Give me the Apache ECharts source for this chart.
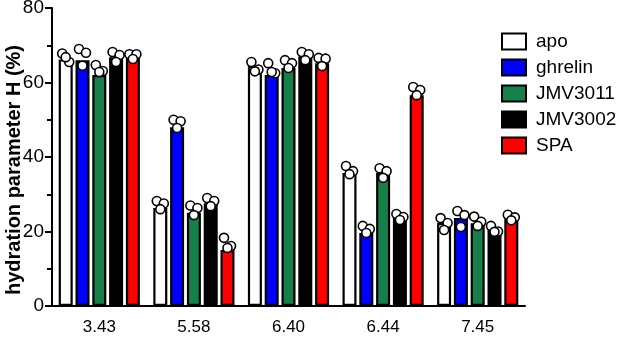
<!DOCTYPE html>
<html>
<head>
<meta charset="utf-8">
<script src="https://cdn.jsdelivr.net/npm/echarts@6/dist/echarts.min.js"></script>
<style>
  html, body { margin: 0; padding: 0; background: #fff; }
  #chart { width: 617px; height: 337px; }
</style>
</head>
<body>
<div id="chart"></div>
<script>
// categories on the x axis
const categories = ["3.43", "5.58", "6.40", "6.44", "7.45"];
const seriesNames = ["apo", "ghrelin", "JMV3011", "JMV3002", "SPA"];
const seriesColors = ["#ffffff", "#0000ff", "#17804a", "#000000", "#ff0000"];

// bar heights (mean H %)
const apo = [66.2, 26.3, 64.5, 35.7, 22.3];
const ghrelin = [66.0, 48.0, 62.0, 19.6, 23.6];
const jmv3011 = [62.0, 25.0, 63.9, 35.7, 22.2];
const jmv3002 = [66.8, 27.6, 67.0, 23.6, 21.0];
const spa = [66.8, 15.0, 65.2, 56.6, 23.5];

// individual replicates (3 per bar)
const apoPts = [[67.8, 65.5, 66.8], [28.2, 27.5, 26.0], [65.5, 63.5, 63.0], [37.6, 36.2, 35.4], [23.6, 22.3, 20.4]];
const ghrelinPts = [[69.0, 68.0, 64.5], [50.0, 49.6, 47.8], [65.2, 62.5, 62.8], [21.5, 20.7, 19.6], [25.5, 24.4, 21.2]];
const jmv3011Pts = [[64.7, 63.1, 62.8], [27.0, 26.3, 24.4], [66.0, 65.2, 63.9], [37.0, 36.2, 34.4], [24.0, 22.6, 21.5]];
const jmv3002Pts = [[68.2, 67.4, 65.5], [29.0, 28.2, 26.8], [68.2, 67.6, 66.0], [24.7, 23.9, 23.1], [21.5, 20.0, 19.9]];
const spaPts = [[67.6, 67.6, 66.3], [18.3, 16.1, 15.6], [66.6, 66.4, 64.4], [58.8, 58.0, 56.6], [24.5, 23.8, 23.0]];

const yTicks = [0, 20, 40, 60, 80];

const barValues = [apo, ghrelin, jmv3011, jmv3002, spa];
const pointValues = [apoPts, ghrelinPts, jmv3011Pts, jmv3002Pts, spaPts];

const BAR_W = 14;
const BAR_GAP = 0.2;
const jitter = [-3.5, 3.5, 0];

const font = "'Liberation Sans', Arial, Helvetica, sans-serif";

const chart = echarts.init(document.getElementById("chart"));

const barSeries = seriesNames.map((name, i) => ({
  name: name,
  type: "bar",
  data: barValues[i],
  barWidth: BAR_W,
  barGap: (BAR_GAP * 100) + "%",
  itemStyle: { color: seriesColors[i], borderColor: "#000", borderWidth: 2.2 },
  emphasis: { disabled: true },
  z: 2
}));

// dots drawn over each bar
const dotData = [];
pointValues.forEach((grp, s) => {
  grp.forEach((reps, c) => {
    reps.forEach((v, r) => dotData.push([c, v, s, r]));
  });
});

const dotSeries = {
  type: "custom",
  name: "points",
  data: dotData,
  z: 5,
  silent: true,
  renderItem: (params, api) => {
    const c = api.value(0);
    const v = api.value(1);
    const s = api.value(2);
    const r = api.value(3);
    const p = api.coord([c, v]);
    const step = BAR_W * (1 + BAR_GAP);
    const total = 5 * BAR_W + 4 * BAR_W * BAR_GAP;
    const off = -total / 2 + BAR_W / 2 + s * step + jitter[r];
    return {
      type: "circle",
      shape: { cx: p[0] + off, cy: p[1], r: 4.5 },
      style: { fill: "#fff", stroke: "#000", lineWidth: 1.6 }
    };
  }
};

const option = {
  animation: false,
  grid: { left: 52, right: 92, top: 8, bottom: 31, containLabel: false, outerBoundsMode: "none" },
  legend: {
    data: seriesNames,
    orient: "vertical",
    left: 496,
    top: 27,
    padding: 5,
    icon: "rect",
    itemWidth: 24,
    itemHeight: 16,
    itemGap: 7,
    textStyle: { fontSize: 19, lineHeight: 17, color: "#000", fontFamily: font, padding: [0, 0, 0, 5] },
    selectedMode: false
  },
  xAxis: {
    type: "category",
    data: categories,
    axisLine: { lineStyle: { color: "#000", width: 2 } },
    axisTick: { alignWithLabel: true, length: 6, lineStyle: { color: "#000", width: 2 } },
    axisLabel: { color: "#000", fontSize: 17, fontFamily: font, margin: 13 }
  },
  yAxis: {
    type: "value",
    min: yTicks[0],
    max: yTicks[yTicks.length - 1],
    interval: 20,
    name: "hydration parameter H (%)",
    nameLocation: "middle",
    nameGap: 28,
    nameMoveOverlap: false,
    nameTextStyle: { fontSize: 20, fontWeight: "bold", color: "#000", fontFamily: font, padding: [0, 26, 0, 0] },
    axisLine: { show: true, lineStyle: { color: "#000", width: 2 } },
    axisTick: { show: true, length: 7, lineStyle: { color: "#000", width: 2 } },
    minorTick: { show: true, splitNumber: 2, length: 5, lineStyle: { color: "#000", width: 2 } },
    splitLine: { show: false },
    axisLabel: { color: "#000", fontSize: 19, fontFamily: font, margin: 8 }
  },
  series: barSeries.concat([dotSeries])
};

chart.setOption(option);
</script>
</body>
</html>
